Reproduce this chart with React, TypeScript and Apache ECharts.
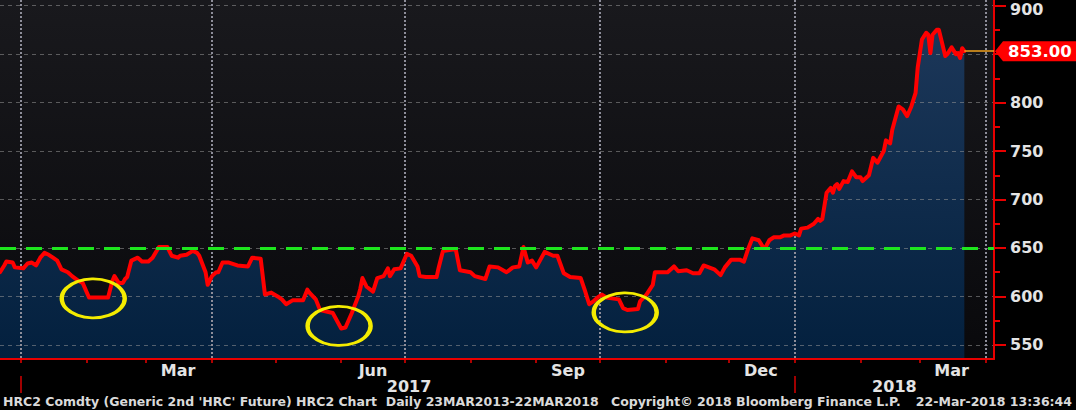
import React, { useEffect, useRef } from "react";
import * as echarts from "echarts";

// ---- data ----
const DATES: string[] = [
  "2016-12-22","2016-12-24","2016-12-25","2016-12-28","2016-12-29","2017-01-02","2017-01-04","2017-01-06","2017-01-08","2017-01-10",
  "2017-01-12","2017-01-14","2017-01-16","2017-01-18","2017-01-20","2017-01-23","2017-01-25","2017-01-28","2017-01-30","2017-02-02",
  "2017-02-11","2017-02-13","2017-02-14","2017-02-16","2017-02-18","2017-02-19","2017-02-20","2017-02-22","2017-02-25","2017-02-27",
  "2017-03-02","2017-03-04","2017-03-07","2017-03-11","2017-03-13","2017-03-16","2017-03-17","2017-03-20","2017-03-23","2017-03-25",
  "2017-03-26","2017-03-29","2017-03-30","2017-04-01","2017-04-03","2017-04-04","2017-04-06","2017-04-09","2017-04-13","2017-04-18",
  "2017-04-20","2017-04-24","2017-04-26","2017-04-29","2017-05-02","2017-05-04","2017-05-06","2017-05-09","2017-05-14","2017-05-16",
  "2017-05-17","2017-05-20","2017-05-22","2017-05-28","2017-06-01","2017-06-03","2017-06-06","2017-06-09","2017-06-10","2017-06-11",
  "2017-06-13","2017-06-16","2017-06-18","2017-06-21","2017-06-23","2017-06-24","2017-06-26","2017-06-29","2017-07-02","2017-07-04",
  "2017-07-07","2017-07-08","2017-07-11","2017-07-16","2017-07-17","2017-07-19","2017-07-25","2017-07-27","2017-08-01","2017-08-03",
  "2017-08-08","2017-08-10","2017-08-14","2017-08-18","2017-08-21","2017-08-24","2017-08-26","2017-08-28","2017-08-30","2017-09-01",
  "2017-09-05","2017-09-09","2017-09-11","2017-09-14","2017-09-17","2017-09-22","2017-09-24","2017-09-26","2017-09-28","2017-09-30",
  "2017-10-02","2017-10-04","2017-10-10","2017-10-12","2017-10-14","2017-10-19","2017-10-20","2017-10-23","2017-10-26","2017-10-27",
  "2017-10-31","2017-11-02","2017-11-05","2017-11-07","2017-11-11","2017-11-14","2017-11-17","2017-11-19","2017-11-24","2017-11-27",
  "2017-11-29","2017-12-02","2017-12-06","2017-12-08","2017-12-10","2017-12-12","2017-12-15","2017-12-17","2017-12-18","2017-12-20",
  "2017-12-22","2017-12-25","2017-12-27","2017-12-30","2018-01-01","2018-01-03","2018-01-04","2018-01-07","2018-01-10","2018-01-12",
  "2018-01-13","2018-01-14","2018-01-16","2018-01-18","2018-01-19","2018-01-20","2018-01-21","2018-01-22","2018-01-24","2018-01-26",
  "2018-01-28","2018-01-30","2018-02-01","2018-02-02","2018-02-05","2018-02-07","2018-02-09","2018-02-12","2018-02-13","2018-02-15",
  "2018-02-16","2018-02-19","2018-02-21","2018-02-23","2018-02-25","2018-02-27","2018-02-28","2018-03-02","2018-03-04","2018-03-05",
  "2018-03-06","2018-03-07","2018-03-09","2018-03-10","2018-03-13","2018-03-14","2018-03-16","2018-03-18","2018-03-19","2018-03-20",
  "2018-03-21","2018-03-22",
];
const PRICES: number[] = [
  625,632,636,635,630,629,634,635,632,640,
  645,643,640,637,628,625,621,616,614,599,
  599,616,621,614,614,618,620,637,640,636,
  636,640,651,651,642,640,642,643,647,645,
  642,625,612,621,625,625,635,635,632,631,
  640,639,602,604,600,597,592,596,596,607,
  604,597,586,583,567,568,583,600,608,619,
  610,605,619,621,629,621,628,629,644,642,
  631,621,620,620,630,647,649,627,625,621,
  618,631,630,625,630,631,651,635,637,630,
  646,642,642,624,620,619,606,592,595,599,
  602,599,597,588,586,587,595,602,612,625,
  625,625,631,626,627,624,624,632,628,622,
  630,638,638,636,649,660,658,651,650,658,
  661,661,663,663,665,663,670,671,675,680,
  678,680,707,712,707,714,716,711,719,718,
  729,723,723,719,725,743,738,750,761,758,
  772,796,793,786,796,810,836,865,872,870,
  851,870,875,875,848,850,857,850,851,846,
  856,853,
];
const LAST_DATE = "2018-03-22";
const LAST_VALUE = 853;
const RESISTANCE = 650;

// circled lows
const LOW_DATES: string[] = ["2017-02-04", "2017-05-31", "2017-10-13"];
const LOW_VALUES: number[] = [598, 569.6, 583.5];

// axes
const X_MIN = "2016-12-22";
const X_MAX = "2018-04-05";
const Y_MIN = 535.5;
const Y_MAX = 905.8;
const Y_MAJOR: number[] = [550, 600, 650, 700, 750, 800, 850, 900];
const Y_LABELS: number[] = [550, 600, 650, 700, 750, 800, 900]; // 850 is covered by the last-price tag
const Y_MINOR: number[] = [575, 625, 675, 725, 775, 825, 875];
const MONTH_TICKS: string[] = [
  "2017-01-01","2017-02-01","2017-03-01","2017-04-01","2017-05-01","2017-06-01","2017-07-01","2017-08-01",
  "2017-09-01","2017-10-01","2017-11-01","2017-12-01","2018-01-01","2018-02-01","2018-03-01","2018-04-01",
];
const QUARTER_LINES: string[] = ["2017-01-01","2017-04-01","2017-07-01","2017-10-01","2018-01-01","2018-04-01"];
const MONTH_LABEL_POS: string[] = ["2017-03-16","2017-06-16","2017-09-16","2017-12-16","2018-03-16"];
const MONTH_LABELS: string[] = ["Mar", "Jun", "Sep", "Dec", "Mar"];
const YEAR_TICKS: string[] = ["2017-01-01", "2018-01-01"];
const YEAR_LABEL_POS: string[] = ["2017-07-03", "2018-02-17"];
const YEAR_LABELS: string[] = ["2017", "2018"];

const FOOTER_TEXTS: string[] = [
  "HRC2 Comdty (Generic 2nd 'HRC' Future) HRC2 Chart  Daily 23MAR2013-22MAR2018",
  "Copyright\u00A9 2018 Bloomberg Finance L.P.",
  "22-Mar-2018 13:36:44",
];

const FONT = "DejaVu Sans";
const RED = "#ff0000";
const AXIS_RED = "#e80000";
const TEXT = "#e4e4e4";
const LAST_LINE = "#f0a21e";

const ts = (s: string): number => {
  const [y, m, d] = s.split("-").map(Number);
  return new Date(y, m - 1, d).getTime();
};

export default function App() {
  const ref = useRef<HTMLDivElement>(null);

  useEffect(() => {
    if (!ref.current) return;
    const chart = echarts.init(ref.current, undefined, { renderer: "svg", width: 1076, height: 410 });

    const seriesData = DATES.map((d, i) => [ts(d), PRICES[i]]);
    const monthLabelTs = MONTH_LABEL_POS.map(ts);
    const yearLabelTs = YEAR_LABEL_POS.map(ts);
    const xMin = ts(X_MIN);
    const xMax = ts(X_MAX);

    const labelFont = { color: TEXT, fontFamily: FONT, fontSize: 16, fontWeight: "bold" as const };

    const option: any = {
      animation: false,
      backgroundColor: "#000000",
      grid: {
        left: 0,
        right: 82,
        top: 0,
        bottom: 51,
        show: true,
        borderWidth: 0,
        backgroundColor: new echarts.graphic.LinearGradient(0, 0, 0, 1, [
          { offset: 0, color: "#19191d" },
          { offset: 1, color: "#09090c" },
        ]),
      },
      xAxis: [
        {
          type: "value",
          min: xMin,
          max: xMax,
          position: "bottom",
          z: 2,
          axisLine: { show: true, onZero: false, lineStyle: { color: AXIS_RED, width: 2 } },
          axisTick: { show: true, customValues: MONTH_TICKS.map(ts), length: 4, lineStyle: { color: AXIS_RED, width: 1.5 } },
          axisLabel: {
            show: true,
            customValues: monthLabelTs,
            margin: 3,
            ...labelFont,
            formatter: (v: number) => {
              const i = monthLabelTs.indexOf(v);
              return i >= 0 ? MONTH_LABELS[i] : "";
            },
          },
          splitLine: { show: false },
        },
        {
          type: "value",
          min: xMin,
          max: xMax,
          position: "bottom",
          offset: 17,
          z: 2,
          axisLine: { show: false, onZero: false },
          axisTick: { show: true, customValues: YEAR_TICKS.map(ts), length: 17, lineStyle: { color: "#a00000", width: 2 } },
          axisLabel: {
            show: true,
            customValues: yearLabelTs,
            margin: 2,
            ...labelFont,
            formatter: (v: number) => {
              const i = yearLabelTs.indexOf(v);
              return i >= 0 ? YEAR_LABELS[i] : "";
            },
          },
          splitLine: { show: false },
        },
        {
          type: "value",
          min: xMin,
          max: xMax,
          position: "bottom",
          z: 2,
          axisLine: { show: false, onZero: false },
          axisTick: { show: false, customValues: QUARTER_LINES.map(ts) },
          axisLabel: { show: false },
          splitLine: { show: true, lineStyle: { color: "#8e8e9a", width: 2, type: [2, 2] } },
        },
      ],
      yAxis: [
        {
          type: "value",
          position: "right",
          min: Y_MIN,
          max: Y_MAX,
          z: 2,
          axisLine: { show: true, lineStyle: { color: AXIS_RED, width: 2 } },
          axisTick: { show: true, customValues: Y_MAJOR, length: 12, lineStyle: { color: AXIS_RED, width: 2 } },
          axisLabel: {
            show: true,
            customValues: Y_LABELS,
            margin: 16,
            ...labelFont,
            formatter: (v: number) => (v === Y_LABELS[Y_LABELS.length - 1] ? `{top|${v}}` : `${v}`),
            rich: { top: { ...labelFont, padding: [7, 0, 0, 0] } },
          },
          splitLine: { show: true, lineStyle: { color: "rgba(150,150,150,0.55)", width: 1, type: [4, 4] } },
        },
        {
          type: "value",
          position: "right",
          min: Y_MIN,
          max: Y_MAX,
          z: 2,
          axisLine: { show: false },
          axisTick: { show: true, customValues: Y_MINOR, length: 6, lineStyle: { color: AXIS_RED, width: 2 } },
          axisLabel: { show: false },
          splitLine: { show: false },
        },
      ],
      series: [
        {
          type: "line",
          name: "area",
          xAxisIndex: 0,
          yAxisIndex: 0,
          data: seriesData,
          showSymbol: false,
          silent: true,
          z: 1,
          lineStyle: { width: 0 },
          areaStyle: {
            origin: "start",
            opacity: 1,
            color: new echarts.graphic.LinearGradient(0, 0, 0, 1, [
              { offset: 0, color: "#1c3759" },
              { offset: 1, color: "#03203e" },
            ]),
          },
          markLine: {
            silent: true,
            symbol: ["none", "none"],
            lineStyle: { color: LAST_LINE, width: 1.5, type: "solid", opacity: 1 },
            emphasis: { disabled: true },
            label: {
              show: true,
              position: "end",
              distance: 9,
              formatter: LAST_VALUE.toFixed(2),
              backgroundColor: RED,
              color: "#ffffff",
              fontFamily: FONT,
              fontWeight: "bold",
              fontSize: 16.5,
              padding: [2, 6, 1, 5],
            },
            data: [[{ coord: [ts(LAST_DATE), LAST_VALUE] }, { coord: [xMax, LAST_VALUE] }]],
          },
        },
        {
          type: "line",
          name: "HRC2",
          xAxisIndex: 0,
          yAxisIndex: 0,
          data: seriesData,
          showSymbol: false,
          z: 3,
          lineStyle: { color: RED, width: 4, join: "round", cap: "round" },
          markLine: {
            silent: true,
            symbol: ["none", "none"],
            lineStyle: { color: "#1ee61e", width: 3, type: [16, 10], opacity: 1 },
            label: { show: false },
            data: [{ yAxis: RESISTANCE }],
          },
          markPoint: {
            silent: true,
            label: { show: false },
            data: [
              ...LOW_DATES.map((d, i) => ({
                coord: [ts(d), LOW_VALUES[i]],
                symbol: "circle",
                symbolSize: [63, 39],
                itemStyle: { color: "rgba(0,0,0,0)", borderColor: "#f4ec00", borderWidth: 3.5 },
              })),
              {
                coord: [xMax, LAST_VALUE],
                symbol: "triangle",
                symbolSize: [20, 8],
                symbolRotate: 90,
                symbolOffset: [5, 0],
                itemStyle: { color: RED, borderWidth: 0 },
              },
            ],
          },
        },
      ],
      graphic: [
        { type: "text", left: 3, top: 395, style: { text: FOOTER_TEXTS[0], fill: "#dadada", font: `bold 12.5px "${FONT}"` } },
        { type: "text", left: 611, top: 395, style: { text: FOOTER_TEXTS[1], fill: "#dadada", font: `bold 12.5px "${FONT}"` } },
        { type: "text", right: 4, top: 395, style: { text: FOOTER_TEXTS[2], fill: "#dadada", font: `bold 12.5px "${FONT}"` } },
      ],
    };

    chart.setOption(option);
    return () => chart.dispose();
  }, []);

  return (
    <div
      ref={ref}
      style={{ position: "fixed", left: 0, top: 0, width: 1076, height: 410, background: "#000" }}
    />
  );
}
